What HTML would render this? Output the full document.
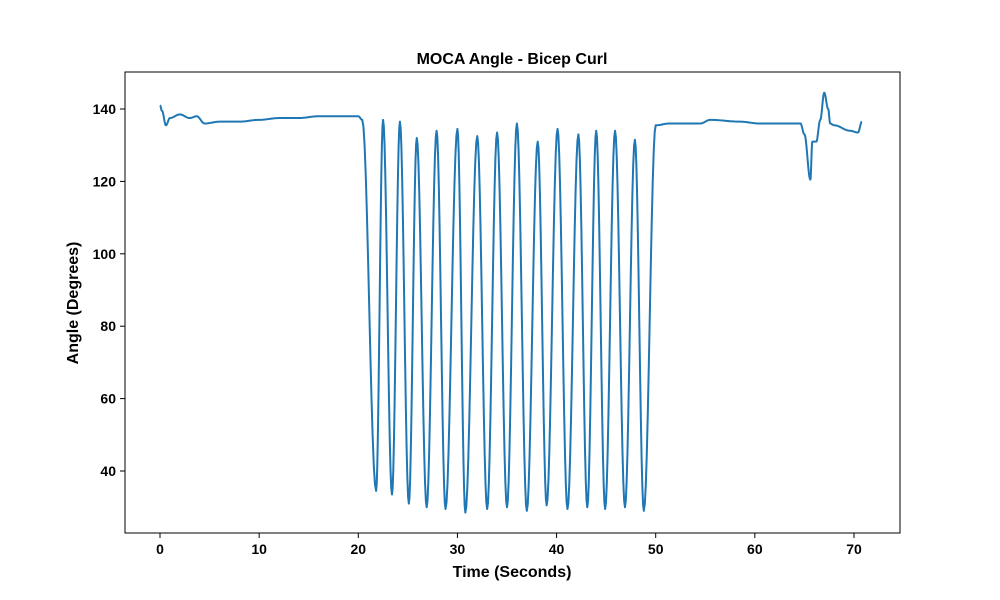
<!DOCTYPE html>
<html><head><meta charset="utf-8"><style>
body{margin:0;background:#fff;}
svg{display:block;font-family:"Liberation Sans",Arial,sans-serif;}
</style></head><body>
<svg id="chart" width="1000" height="600">
<rect width="1000" height="600" fill="#fff"/>
<text x="512" y="64" text-anchor="middle" font-size="16" font-weight="bold">MOCA Angle - Bicep Curl</text>
<text x="512" y="577" text-anchor="middle" font-size="16" font-weight="bold">Time (Seconds)</text>
<text transform="translate(78,303) rotate(-90)" text-anchor="middle" font-size="16" font-weight="bold">Angle (Degrees)</text>
<g id="ticks"></g>
<path id="line" fill="none" stroke="#1f77b4" stroke-width="2" stroke-linejoin="round"/>
<rect x="125" y="72" width="775" height="461" fill="none" stroke="#000" stroke-width="1"/>
</svg>
<script>
const times=[0,0.2,0.6,1.0,2,3,3.7,4.5,6,8,10,12,14,16,18,20,20.4,21.8,22.5,23.4,24.2,25.1,25.9,26.9,27.9,28.8,30.0,30.8,32.0,33.0,34.0,35.0,36.0,37.0,38.1,39.0,40.1,41.1,42.2,43.1,44.0,44.9,45.9,46.9,47.9,48.8,50.0,51.4,54.5,55.5,58.5,60.5,64.6,65.0,65.6,65.8,66.2,66.6,67.0,67.4,67.6,68.0,69.6,70.4,70.8];
const angles=[141,139.5,135.5,137.5,138.5,137.5,138,136,136.5,136.5,137,137.5,137.5,138,138,138,137,34.5,137,33.5,136.5,31,132,30,134,29.5,134.5,28.5,132.5,29.5,133.5,30,136,29,131,30.5,134.5,29.5,133,30,134,29.5,134,30,131.5,29,135.5,136,136,137,136.5,136,136,133,120.5,131,131,137,144.5,140,136,135.5,134,133.5,136.5];
const xTicks=[0,10,20,30,40,50,60,70];
const yTicks=[40,60,80,100,120,140];
const X=t=>160+t*9.914, Y=v=>109+(140-v)*3.62;
const ns="http://www.w3.org/2000/svg";
const g=document.getElementById('ticks');
function add(tag,attrs,txt){const e=document.createElementNS(ns,tag);for(const k in attrs)e.setAttribute(k,attrs[k]);if(txt!==undefined)e.textContent=txt;g.appendChild(e);return e;}
xTicks.forEach(t=>{
 const l=add('line',{x1:X(t),x2:X(t),y1:533,y2:538,stroke:'#000'});
 
 
 const s=add('text',{x:X(t),y:554,'text-anchor':'middle','font-size':14,'font-weight':'bold'},t);
 
 
});
yTicks.forEach(v=>{
 const l=add('line',{x1:120,x2:125,y1:Y(v),y2:Y(v),stroke:'#000'});
 
 
 const s=add('text',{x:116,y:Y(v)+5,'text-anchor':'end','font-size':14,'font-weight':'bold'},v);
 
 
});
let d='M'+X(times[0]).toFixed(2)+','+Y(angles[0]).toFixed(2);
for(let i=1;i<times.length;i++){
 const t0=times[i-1],t1=times[i],a=angles[i-1],b=angles[i];
 for(let k=1;k<=12;k++){const f=k/12;const v=a+(b-a)*(1-Math.cos(Math.PI*f))/2;const t=t0+(t1-t0)*f;d+='L'+X(t).toFixed(2)+','+Y(v).toFixed(2);}
}
document.getElementById('line').setAttribute('d',d);
</script>
</body></html>
